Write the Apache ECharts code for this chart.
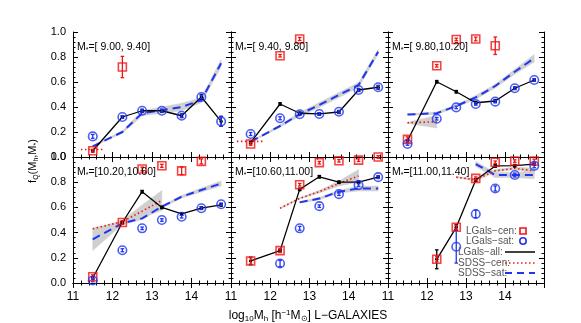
<!DOCTYPE html>
<html><head><meta charset="utf-8">
<script src="https://cdn.jsdelivr.net/npm/echarts@6/dist/echarts.min.js"></script>
<style>html,body{margin:0;padding:0;background:#fff}#c{width:581px;height:323px}</style>
</head><body><div id="c"></div>
<script>
// ---------------- DATA ----------------
const xBins = [11.5, 12.25, 12.75, 13.25, 13.75, 14.25, 14.75];
const massBins = ['[ 9.00, 9.40]', '[ 9.40, 9.80]', '[ 9.80,10.20]', '[10.20,10.60]', '[10.60,11.00]', '[11.00,11.40]'];
const xTickLabels = [11, 12, 13, 14];
const yTickLabels = [0.0, 0.2, 0.4, 0.6, 0.8, 1.0];

// LGals centrals (red squares)
const lgalsCen = [
  [0.05, 0.72, null, null, null, null, null],
  [0.104, 0.81, 0.944, null, null, null, null],
  [0.141, 0.73, 0.94, 0.944, 0.89, null, null],
  [0.05, 0.48, 0.905, 0.93, 0.89, 0.965, null],
  [0.175, 0.257, 0.78, 0.955, 0.97, 0.975, 1.0],
  [null, 0.188, 0.442, 0.83, 0.958, 0.968, 0.968]
];
const lgalsCenErr = [
  [0.01, 0.085, 0, 0, 0, 0, 0],
  [0.01, 0.01, 0.012, 0, 0, 0, 0],
  [0.02, 0.01, 0.01, 0.015, 0.07, 0, 0],
  [0.015, 0.015, 0.015, 0.012, 0.03, 0.02, 0],
  [0.025, 0.015, 0.01, 0.01, 0.01, 0.01, 0.01],
  [0, 0.02, 0.015, 0.012, 0.01, 0.01, 0.015]
];
// LGals satellites (blue circles)
const lgalsSat = [
  [0.165, 0.32, 0.37, 0.37, 0.33, 0.48, 0.285],
  [0.184, 0.31, 0.342, 0.344, 0.362, 0.536, 0.558],
  [0.104, 0.306, 0.397, 0.424, 0.443, 0.55, 0.616],
  [0.02, 0.26, 0.434, 0.5, 0.526, 0.593, 0.625],
  [null, 0.155, 0.434, 0.61, 0.705, 0.777, 0.84],
  [null, null, 0.288, 0.548, 0.75, 0.857, 0.93]
];
const lgalsSatErr = [
  [0.015, 0.01, 0.01, 0.01, 0.012, 0.015, 0.04],
  [0.012, 0.012, 0.01, 0.01, 0.01, 0.01, 0.012],
  [0.01, 0.01, 0.01, 0.01, 0.01, 0.01, 0.01],
  [0.01, 0.012, 0.01, 0.01, 0.01, 0.01, 0.01],
  [0, 0.025, 0.015, 0.01, 0.01, 0.01, 0.01],
  [0, 0, 0.13, 0.03, 0.02, 0.015, 0.015]
];
// LGals all (black line)
const lgalsAll = [
  [0.05, 0.32, 0.37, 0.37, 0.33, 0.48, 0.285],
  [0.115, 0.424, 0.35, 0.345, 0.36, 0.536, 0.558],
  [0.13, 0.602, 0.522, 0.434, 0.448, 0.55, 0.616],
  [0.04, 0.48, 0.725, 0.6, 0.548, 0.595, 0.62],
  [0.175, 0.257, 0.743, 0.843, 0.8, 0.8, 0.84],
  [null, 0.188, 0.442, 0.817, 0.929, 0.931, 0.944]
];
const lgalsAllErr = [
  [0.01, 0.01, 0.012, 0.012, 0.015, 0.02, 0.04],
  [0.01, 0.01, 0.01, 0.01, 0.012, 0.012, 0.015],
  [0.01, 0.01, 0.01, 0.01, 0.01, 0.01, 0.01],
  [0.01, 0.01, 0.01, 0.01, 0.01, 0.01, 0.01],
  [0.03, 0.01, 0.01, 0.01, 0.01, 0.01, 0.01],
  [0, 0.075, 0.02, 0.01, 0.01, 0.01, 0.01]
];
// SDSS centrals (red dotted) with band half-width
const sdssCenX = [
  [11.2, 11.8],
  [11.15, 11.8],
  [11.5, 12.25],
  [11.5, 12.25, 12.75, 13.25],
  [12.25, 12.75, 13.25, 13.75, 14.25],
  [12.75, 13.25, 13.75, 14.25, 14.75]
];
const sdssCenY = [
  [0.06, 0.06],
  [0.125, 0.125],
  [0.274, 0.282],
  [0.43, 0.487, 0.57, 0.655],
  [0.593, 0.672, 0.725, 0.79, 0.85],
  [0.84, 0.82, 0.89, 0.91, 0.89]
];
const sdssCenBand = [
  [0, 0],
  [0, 0],
  [0.005, 0.05],
  [0.0, 0.01, 0.05, 0.08],
  [0.005, 0.005, 0.01, 0.02, 0.05],
  [0.005, 0.01, 0.01, 0.01, 0.02]
];
// SDSS satellites (blue dashed) with band half-width
const sdssSatX = [
  xBins, xBins, xBins, xBins,
  [12.75, 13.25, 13.75, 14.25, 14.75],
  [13.25, 13.75, 14.25, 14.75]
];
const sdssSatY = [
  [0.085, 0.2, 0.35, 0.375, 0.40, 0.455, 0.75],
  [0.122, 0.248, 0.342, 0.416, 0.496, 0.576, 0.842],
  [0.34, 0.35, 0.408, 0.477, 0.568, 0.682, 0.79],
  [0.347, 0.474, 0.513, 0.606, 0.685, 0.738, 0.79],
  [0.64, 0.67, 0.725, 0.75, 0.75],
  [0.944, 0.857, 0.857, 0.857]
];
const sdssSatBand = [
  [0.005, 0.01, 0.02, 0.025, 0.03, 0.02, 0.03],
  [0.005, 0.01, 0.015, 0.02, 0.02, 0.02, 0.02],
  [0.005, 0.01, 0.01, 0.015, 0.015, 0.02, 0.03],
  [0.09, 0.01, 0.01, 0.01, 0.01, 0.015, 0.02],
  [0.005, 0.01, 0.01, 0.02, 0.02],
  [0.02, 0.02, 0.02, 0.03]
];

// ---------------- STYLE / LAYOUT ----------------
const RED = '#f01414', BLUE = '#1f35f0', BAND = '#d0d0d0';
const FONT = 'Liberation Sans';
const colLeft = [73, 231, 388], colWidth = [158, 157, 156];
const rowTop = [32, 157], rowHeight = [125, 126];

const grids = [], xAxes = [], yAxes = [], series = [], graphics = [];

function errRender(color, cap) {
  return function (params, api) {
    const x = api.value(0), y = api.value(1), e = api.value(2);
    if (!e) return null;
    const lo = api.coord([x, y - e]), hi = api.coord([x, y + e]);
    const st = { stroke: color, lineWidth: 1.3 };
    return { type: 'group', children: [
      { type: 'line', shape: { x1: lo[0], y1: lo[1], x2: hi[0], y2: hi[1] }, style: st },
      { type: 'line', shape: { x1: lo[0] - cap, y1: lo[1], x2: lo[0] + cap, y2: lo[1] }, style: st },
      { type: 'line', shape: { x1: hi[0] - cap, y1: hi[1], x2: hi[0] + cap, y2: hi[1] }, style: st }
    ]};
  };
}
function bandRender(params, api) {
  const x0 = api.value(0), lo0 = api.value(1), hi0 = api.value(2);
  const x1 = api.value(3), lo1 = api.value(4), hi1 = api.value(5);
  if (hi0 - lo0 <= 0.0001 && hi1 - lo1 <= 0.0001) return null;
  return { type: 'polygon', shape: { points: [
    api.coord([x0, lo0]), api.coord([x1, lo1]), api.coord([x1, hi1]), api.coord([x0, hi0]) ] },
    style: { fill: BAND, stroke: BAND, lineWidth: 0.5 } };
}
function bandData(xs, ys, ws) {
  const d = [];
  for (let k = 0; k < xs.length - 1; k++)
    d.push([xs[k], ys[k] - ws[k], ys[k] + ws[k], xs[k + 1], ys[k + 1] - ws[k + 1], ys[k + 1] + ws[k + 1]]);
  return d;
}
function pts(vals) { const d = []; vals.forEach((v, k) => { if (v !== null) d.push([xBins[k], v]); }); return d; }
function errPts(vals, errs) { const d = []; vals.forEach((v, k) => { if (v !== null) d.push([xBins[k], v, errs[k]]); }); return d; }

for (let p = 0; p < 6; p++) {
  const r = Math.floor(p / 3), c = p % 3;
  grids.push({ left: colLeft[c], top: rowTop[r], width: colWidth[c], height: rowHeight[r], outerBoundsMode: 'none', containLabel: false });
  const axLine = { show: true, lineStyle: { color: '#000', width: 1 } };
  const tick = { show: true, inside: true, length: 5, lineStyle: { color: '#000' } };
  const minor = { show: true, splitNumber: 5, length: 2.5, lineStyle: { color: '#000' } };
  xAxes.push({ gridIndex: p, type: 'value', min: 11, max: 15, interval: 1, position: 'bottom',
    axisLine: axLine, axisTick: tick, minorTick: minor, splitLine: { show: false },
    axisLabel: { show: r === 1, color: '#000', fontFamily: FONT, fontSize: 12, margin: 8,
      formatter: v => (xTickLabels.indexOf(v) >= 0 ? String(v) : '') } });
  xAxes.push({ gridIndex: p, type: 'value', min: 11, max: 15, interval: 1, position: 'top',
    axisLine: axLine, axisTick: tick, minorTick: minor, splitLine: { show: false }, axisLabel: { show: false } });
  yAxes.push({ gridIndex: p, type: 'value', min: 0, max: 1, interval: 0.2, position: 'left',
    axisLine: axLine, axisTick: tick, minorTick: minor, splitLine: { show: false },
    axisLabel: { show: c === 0, color: '#000', fontFamily: FONT, fontSize: 11, margin: 7,
      formatter: v => (yTickLabels.some(t => Math.abs(t - v) < 1e-6) ? v.toFixed(1) : '') } });
  yAxes.push({ gridIndex: p, type: 'value', min: 0, max: 1, interval: 0.2, position: 'right',
    axisLine: axLine, axisTick: tick, minorTick: minor, splitLine: { show: false }, axisLabel: { show: false } });

  const ax = { xAxisIndex: 2 * p, yAxisIndex: 2 * p };
  series.push(Object.assign({ type: 'custom', renderItem: bandRender, data: bandData(sdssSatX[p], sdssSatY[p], sdssSatBand[p]), z: 1, silent: true }, ax));
  series.push(Object.assign({ type: 'custom', renderItem: bandRender, data: bandData(sdssCenX[p], sdssCenY[p], sdssCenBand[p]), z: 1, silent: true }, ax));
  series.push(Object.assign({ type: 'line', name: 'SDSS-sat', data: sdssSatX[p].map((x, k) => [x, sdssSatY[p][k]]),
    showSymbol: false, lineStyle: { color: BLUE, width: 2, type: [8, 5] }, z: 2 }, ax));
  series.push(Object.assign({ type: 'line', name: 'SDSS-cen', data: sdssCenX[p].map((x, k) => [x, sdssCenY[p][k]]),
    showSymbol: false, lineStyle: { color: RED, width: 1.6, type: [1.5, 2.5] }, z: 2 }, ax));
  series.push(Object.assign({ type: 'line', name: 'LGals-all', data: pts(lgalsAll[p]),
    symbol: 'circle', symbolSize: 3.5, itemStyle: { color: '#000' }, lineStyle: { color: '#000', width: 1.3 }, z: 3 }, ax));
  series.push(Object.assign({ type: 'custom', renderItem: errRender('#000', 1.8), data: errPts(lgalsAll[p], lgalsAllErr[p]), z: 4, silent: true }, ax));
  series.push(Object.assign({ type: 'scatter', name: 'LGals-cen', data: pts(lgalsCen[p]), symbol: 'rect', symbolSize: 8,
    itemStyle: { color: 'rgba(0,0,0,0)', borderColor: RED, borderWidth: 1.6 }, z: 5 }, ax));
  series.push(Object.assign({ type: 'custom', renderItem: errRender(RED, 1.8), data: errPts(lgalsCen[p], lgalsCenErr[p]), z: 5, silent: true }, ax));
  series.push(Object.assign({ type: 'scatter', name: 'LGals-sat', data: pts(lgalsSat[p]), symbol: 'circle', symbolSize: 8.5,
    itemStyle: { color: 'rgba(0,0,0,0)', borderColor: BLUE, borderWidth: 1.6 }, z: 5 }, ax));
  series.push(Object.assign({ type: 'custom', renderItem: errRender(BLUE, 1.8), data: errPts(lgalsSat[p], lgalsSatErr[p]), z: 5, silent: true }, ax));

  graphics.push({ type: 'text', left: colLeft[c] + 4, top: rowTop[r] + 10, z: 10,
    style: { text: 'M{s|*}=' + massBins[p], fontFamily: FONT, fontSize: 10.5, fill: '#000',
      rich: { s: { fontSize: 7, fontFamily: FONT, fill: '#000', padding: [5, 0, 0, 0] } } } });
}

// axis titles
graphics.push({ type: 'text', x: 33, y: 161, rotation: Math.PI / 2, z: 10,
  style: { text: 'f{s|Q}(M{s|h},M{s|*})', fontFamily: FONT, fontSize: 11, fill: '#000', align: 'center', verticalAlign: 'middle',
    rich: { s: { fontSize: 7, fontFamily: FONT, fill: '#000', padding: [6, 0, 0, 0] } } } });
graphics.push({ type: 'text', x: 308, y: 316, z: 10,
  style: { text: 'log{s|10}M{s|h} [h{u|−1}M{s|⊙}] L−GALAXIES', fontFamily: FONT, fontSize: 12, fill: '#000', align: 'center', verticalAlign: 'middle',
    rich: { s: { fontSize: 8, fontFamily: FONT, fill: '#000', padding: [6, 0, 0, 0] }, u: { fontSize: 8, fontFamily: FONT, fill: '#000', padding: [0, 0, 6, 0] } } } });

// legend (panel 6)
const LG = '#555';
const legendRows = [
  { t: 'LGals−cen:', x: 466, y: 231 },
  { t: 'LGals−sat:', x: 466, y: 241 },
  { t: 'LGals−all:', x: 458, y: 252 },
  { t: 'SDSS−cen:', x: 458, y: 263 },
  { t: 'SDSS−sat:', x: 458, y: 273 }
];
legendRows.forEach(o => graphics.push({ type: 'text', x: o.x, y: o.y, z: 10,
  style: { text: o.t, fontFamily: FONT, fontSize: 10, fill: LG, verticalAlign: 'middle' } }));
graphics.push({ type: 'rect', shape: { x: 520, y: 228, width: 6, height: 6 }, z: 10, style: { fill: 'none', stroke: RED, lineWidth: 1.6 } });
graphics.push({ type: 'circle', shape: { cx: 523, cy: 241, r: 3.2 }, z: 10, style: { fill: 'none', stroke: BLUE, lineWidth: 1.6 } });
graphics.push({ type: 'line', shape: { x1: 505, y1: 252, x2: 535, y2: 252 }, z: 10, style: { stroke: '#000', lineWidth: 1.5 } });
graphics.push({ type: 'line', shape: { x1: 505, y1: 263, x2: 535, y2: 263 }, z: 10, style: { stroke: RED, lineWidth: 1.5, lineDash: [1.5, 2.5] } });
graphics.push({ type: 'line', shape: { x1: 505, y1: 273, x2: 535, y2: 273 }, z: 10, style: { stroke: BLUE, lineWidth: 2, lineDash: [7, 5] } });

const chart = echarts.init(document.getElementById('c'), null, { renderer: 'canvas' });
chart.setOption({
  animation: false, backgroundColor: '#fff',
  grid: grids, xAxis: xAxes, yAxis: yAxes, series: series, graphic: graphics
});
</script></body></html>
